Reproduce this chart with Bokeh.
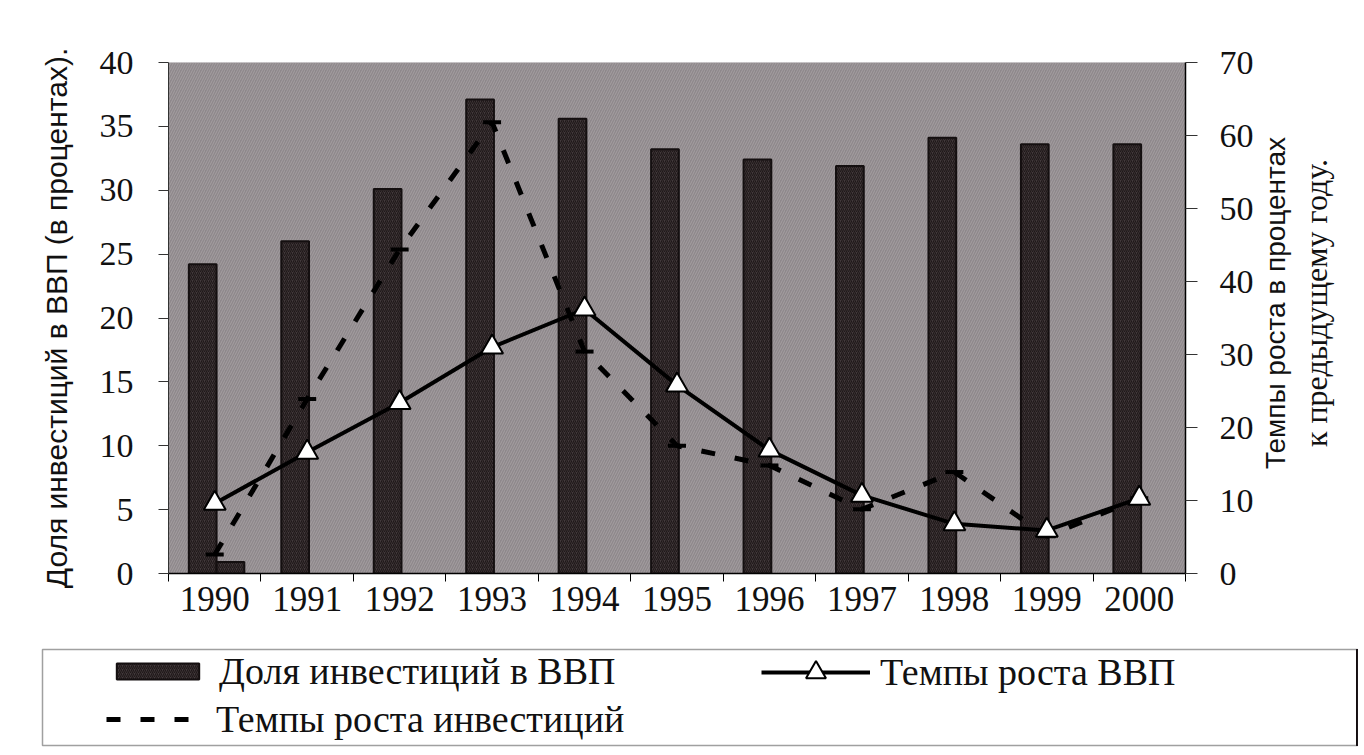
import math
from bokeh.plotting import figure
from bokeh.layouts import column, row
from bokeh.models import (ColumnDataSource, Range1d, LinearAxis, FixedTicker,
                          Legend, LegendItem, BoxAnnotation)
from bokeh.transform import dodge
from bokeh.embed import file_html
from bokeh.resources import INLINE

# ---------------- data ----------------
years = [1990, 1991, 1992, 1993, 1994, 1995, 1996, 1997, 1998, 1999, 2000]
invest_share = [24.2, 26.0, 30.1, 37.1, 35.6, 33.2, 32.4, 31.9, 34.1, 33.6, 33.6]   # left axis, %
extra_share = [0.9, math.nan, math.nan, math.nan, math.nan, math.nan,
               math.nan, math.nan, math.nan, math.nan, math.nan]                   # small second bar
gdp_growth = [9.6, 16.6, 23.4, 31.0, 36.2, 25.8, 16.9, 10.7, 6.8, 5.9, 10.3]      # right axis, %
inv_growth = [2.6, 23.9, 44.4, 61.8, 30.4, 17.5, 14.8, 8.8, 13.9, 5.1, 10.3]      # right axis, %
left_ticks = [0, 5, 10, 15, 20, 25, 30, 35, 40]
right_ticks = [0, 10, 20, 30, 40, 50, 60, 70]

label_left = "Доля инвестиций в ВВП (в процентах)."
label_right1 = "Темпы роста в процентах"
label_right2 = "к предыдущему году."
leg_share = "Доля инвестиций в ВВП"
leg_gdp = "Темпы роста ВВП"
leg_inv = "Темпы роста инвестиций"

src = ColumnDataSource(dict(year=years, share=invest_share, extra=extra_share,
                            gdp=gdp_growth, inv=inv_growth))

SERIF = "Liberation Serif"
SANS = "Liberation Sans"
INK = "#111111"

def no_align(fig):
    if "frame_align" in type(fig).properties():
        fig.frame_align = False

# ---------------- chart ----------------
p = figure(width=1256, height=648,
           x_range=Range1d(years[0] - 0.5, years[-1] + 0.5),
           y_range=Range1d(left_ticks[0], left_ticks[-1]),
           output_backend="svg", toolbar_location=None,
           min_border_left=168, min_border_right=70,
           min_border_top=62, min_border_bottom=75)
no_align(p)
p.extra_y_ranges = {"right": Range1d(right_ticks[0], right_ticks[-1])}

p.background_fill_color = "#8e888b"
p.border_fill_color = "white"
p.outline_line_color = None
p.xgrid.grid_line_color = None
p.ygrid.grid_line_color = None

# hatch texture of the plot area
p.add_layout(BoxAnnotation(fill_alpha=0, line_alpha=0, level="underlay",
                           hatch_pattern="right_diagonal_line", hatch_color="#b3acaf",
                           hatch_alpha=0.6, hatch_scale=5, hatch_weight=1))

bar_style = dict(fill_color="#433a3c", line_color="#140f10", line_width=2,
                 hatch_pattern="right_diagonal_line", hatch_color="#1f1819",
                 hatch_scale=4, hatch_weight=1.2)
inv_line_style = dict(line_color="black", line_width=5, line_dash="14 20")
inv_mark_style = dict(marker="dash", size=18, line_color="black", line_width=4)
gdp_line_style = dict(line_color="black", line_width=4)
gdp_mark_style = dict(marker="triangle", size=22, fill_color="white",
                      line_color="black", line_width=2)

p.vbar(x=dodge("year", -0.13), top="share", width=0.3, source=src, **bar_style)
p.vbar(x=dodge("year", 0.17), top="extra", width=0.3, source=src, **bar_style)
p.line("year", "inv", source=src, y_range_name="right", **inv_line_style)
p.scatter("year", "inv", source=src, y_range_name="right", **inv_mark_style)
p.line("year", "gdp", source=src, y_range_name="right", **gdp_line_style)
p.scatter("year", "gdp", source=src, y_range_name="right", **gdp_mark_style)

# x axis
xa = p.xaxis[0]
xa.ticker = FixedTicker(ticks=years, minor_ticks=[y - 0.5 for y in years] + [years[-1] + 0.5])
xa.major_tick_out = 0
xa.major_tick_in = 0
xa.minor_tick_out = 8
xa.minor_tick_in = 0
xa.minor_tick_line_color = "black"
xa.axis_line_color = "black"
xa.axis_line_width = 1.5
xa.major_label_text_font = SERIF
xa.major_label_text_font_size = "35px"
xa.major_label_text_color = INK
xa.major_label_standoff = 5

# left axis
ya = p.yaxis[0]
ya.ticker = FixedTicker(ticks=left_ticks)
ya.major_tick_out = 10
ya.major_tick_in = 0
ya.minor_tick_out = 0
ya.minor_tick_in = 0
ya.major_tick_line_color = "#333333"
ya.axis_line_color = "#333333"
ya.major_label_text_font = SERIF
ya.major_label_text_font_size = "34px"
ya.major_label_text_color = INK
ya.major_label_standoff = 25
ya.axis_label = label_left
ya.axis_label_text_font = SANS
ya.axis_label_text_font_style = "normal"
ya.axis_label_text_font_size = "30px"
ya.axis_label_text_color = INK
ya.axis_label_standoff = 24

# right axis with ticks
ra = LinearAxis(y_range_name="right", ticker=FixedTicker(ticks=right_ticks))
ra.major_tick_out = 12
ra.major_tick_in = 0
ra.minor_tick_out = 0
ra.minor_tick_in = 0
ra.axis_line_color = "black"
ra.axis_line_width = 1.5
ra.major_tick_line_color = "#333333"
ra.major_label_text_font = SERIF
ra.major_label_text_font_size = "34px"
ra.major_label_text_color = INK
ra.major_label_standoff = 22
p.add_layout(ra, "right")

# ---------------- right-hand titles (own strip, read bottom to top) ----------------
r = figure(width=102, height=648, x_range=Range1d(0, 1), y_range=Range1d(0, 1),
           output_backend="svg", toolbar_location=None,
           x_axis_location=None, y_axis_location=None,
           min_border_left=60, min_border_right=0, min_border_top=47, min_border_bottom=90)
no_align(r)
r.outline_line_color = None
r.background_fill_color = "white"
r.border_fill_color = "white"
r.grid.visible = False

def title_axis(fig, text, font, size, standoff):
    ax = LinearAxis(ticker=FixedTicker(ticks=[]))
    ax.axis_line_color = None
    ax.major_tick_out = 0
    ax.major_tick_in = 0
    ax.minor_tick_out = 0
    ax.minor_tick_in = 0
    ax.major_label_text_font_size = "0px"
    ax.major_label_standoff = 0
    ax.axis_label = text
    ax.axis_label_text_font = font
    ax.axis_label_text_font_style = "normal"
    ax.axis_label_text_font_size = size
    ax.axis_label_text_color = INK
    ax.axis_label_standoff = standoff
    fig.add_layout(ax, "left")

# nearest to the strip's frame first
title_axis(r, label_right2, SERIF, "32px", 4)
title_axis(r, label_right1, SANS, "28px", 4)

# ---------------- legend strip ----------------
q = figure(width=1358, height=99, x_range=Range1d(0, 1), y_range=Range1d(0, 1),
           output_backend="svg", toolbar_location=None,
           x_axis_location=None, y_axis_location=None,
           min_border_left=42, min_border_right=1, min_border_top=1, min_border_bottom=2)
no_align(q)
q.outline_line_color = "#a0a0a0"
q.outline_line_width = 1.5
q.background_fill_color = "white"
q.border_fill_color = "white"
q.grid.visible = False

# legend sample glyphs (same data, outside the strip's visible range)
lg_bar = q.vbar(x="year", top="share", width=0.3, source=src, **bar_style)
lg_gdp_line = q.line("year", "gdp", source=src, **gdp_line_style)
lg_gdp_mark = q.scatter("year", "gdp", source=src, **gdp_mark_style)
lg_inv_line = q.line("year", "inv", source=src, **inv_line_style)

leg_common = dict(padding=0, margin=0, spacing=0, border_line_color=None,
                  background_fill_alpha=0, label_text_font=SERIF,
                  label_text_font_size="38px", label_text_color=INK,
                  label_standoff=10)
q.add_layout(Legend(items=[LegendItem(label=leg_share, renderers=[lg_bar])],
                    location=(64, 52), glyph_width=103, glyph_height=20, **leg_common))
q.add_layout(Legend(items=[LegendItem(label=leg_gdp, renderers=[lg_gdp_line, lg_gdp_mark])],
                    location=(719, 48), glyph_width=109, glyph_height=50, **leg_common))
q.add_layout(Legend(items=[LegendItem(label=leg_inv, renderers=[lg_inv_line])],
                    location=(64, 4), glyph_width=100, glyph_height=20, **leg_common))

layout = column(row(p, r, spacing=0), q, spacing=0)
open("out.html", "w").write(file_html(layout, INLINE))
